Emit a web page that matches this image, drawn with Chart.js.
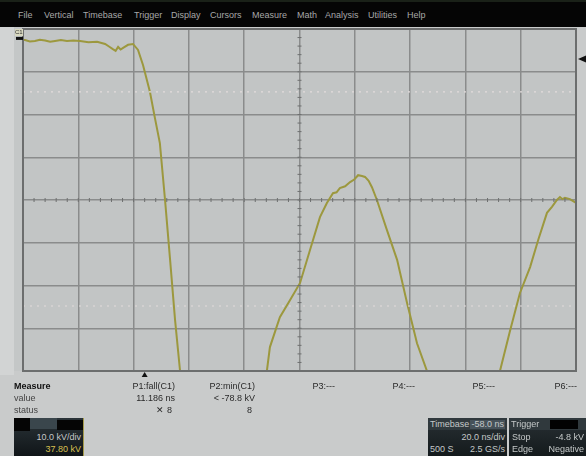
<!DOCTYPE html>
<html><head><meta charset="utf-8">
<script src="https://cdn.jsdelivr.net/npm/chart.js@4.4.0/dist/chart.umd.min.js"></script>
<style>
body{margin:0;width:586px;height:456px;overflow:hidden;position:relative;background:#c9cbcb;font-family:"Liberation Sans",Arial,sans-serif;}
#c{position:absolute;left:0;top:0}
.abs{position:absolute;white-space:nowrap;line-height:1}
#menu{position:absolute;left:0;top:0;width:586px;height:27px;background:#050505;border-top:2px solid #1a2118;box-sizing:border-box}
#menu span{position:absolute;top:8px;font-size:9px;color:#a8a8a8}
.m{font-size:9px;color:#2a2a2a}
.g{color:#555}
.box{position:absolute;background:#1b2226;overflow:hidden}
.bt{position:absolute;font-size:9px;color:#c4c8c8;white-space:nowrap;line-height:1}
</style></head><body>
<canvas id="c" width="586" height="456"></canvas>
<div id="menu"></div>
<div id="meas"></div>
<div class="box" style="left:14px;top:418px;width:69px;height:38px;border-right:1px solid #a49a4a;background:linear-gradient(#2a3338,#101518)">
  <div style="position:absolute;left:0;top:0;width:16px;height:13px;background:#050505"></div>
  <div style="position:absolute;left:16px;top:0;width:27px;height:11px;background:#3a464c"></div>
  <div style="position:absolute;left:43px;top:2px;width:26px;height:10px;background:#050505"></div>
  <div class="bt" style="right:2px;top:15px">10.0 kV/div</div>
  <div class="bt" style="right:2px;top:27px;color:#d8c050">37.80 kV</div>
</div>
<div class="box" style="left:428px;top:418px;width:79px;height:38px;background:linear-gradient(#283034,#141a1c)">
  <div style="position:absolute;left:0;top:0;width:79px;height:12px;background:#30393d"></div>
  <div class="bt" style="left:2px;top:2px">Timebase</div>
  <div class="bt" style="right:2px;top:2px;background:#46525a;padding:0 1px">-58.0 ns</div>
  <div class="bt" style="right:2px;top:15px">20.0 ns/div</div>
  <div class="bt" style="left:2px;top:27px">500 S</div>
  <div class="bt" style="right:2px;top:27px">2.5 GS/s</div>
</div>
<div class="box" style="left:509px;top:418px;width:77px;height:38px;background:linear-gradient(#283034,#141a1c)">
  <div style="position:absolute;left:0;top:0;width:77px;height:12px;background:#30393d"></div>
  <div style="position:absolute;left:41px;top:2px;width:28px;height:9px;background:#020202"></div>
  <div class="bt" style="left:2px;top:2px">Trigger</div>
  <div class="bt" style="left:3px;top:15px">Stop</div>
  <div class="bt" style="right:2px;top:15px">-4.8 kV</div>
  <div class="bt" style="left:3px;top:27px">Edge</div>
  <div class="bt" style="right:2px;top:27px">Negative</div>
</div>
<script>
// ---- data (time in ns, voltage in kV) ----
const timeNs = [-44.0,-43.3,-41.5,-39.7,-37.9,-36.0,-34.2,-32.4,-30.3,-28.1,-25.8,-23.4,-20.3,-17.2,-14.3,-12.9,-11.5,-10.5,-9.6,-8.7,-7.8,-6.0,-4.2,-2.4,-0.6,1.9,3.7,5.5,7.4,9.2,11.0,12.8,14.6,18,24,30,36,41,44.2,45.3,48.9,52.6,56.2,59.8,63.4,65.9,68.1,69.4,70.6,72.5,74.3,75.8,77.2,78.6,79.7,81.0,82.2,84.0,87.6,91.3,94.9,98.5,102.1,105,110,116,122,126,128.5,132.1,135.7,139.4,142.3,145.5,147.3,149.1,150.2,151.1,152.0,153.8,155.6,156.0];
const voltKV = [-0.4,-0.4,-0.7,-0.6,-0.3,-0.5,-0.8,-0.6,-0.4,-0.6,-0.5,-0.6,-0.9,-0.8,-1.3,-1.9,-2.5,-2.9,-2.0,-2.6,-2.2,-1.5,-1.3,-2.7,-6.2,-12.5,-18.6,-24.5,-38.0,-51.8,-65.9,-77.8,-88,-97,-104,-106,-101,-90,-77.8,-72.2,-65.2,-61.2,-57.2,-49.5,-41.8,-38.5,-36.2,-36.0,-35.0,-34.6,-33.6,-33.0,-32.0,-32.2,-32.4,-33.3,-34.8,-37.8,-44.8,-51.8,-61.9,-71.3,-77.8,-86,-95,-99,-94,-86,-77.8,-68.5,-59.6,-53.5,-47.2,-40.8,-39.4,-37.8,-37.1,-37.6,-37.3,-37.6,-38.3,-38.3];
const xDivTicks = [-44,-24,-4,16,36,56,76,96,116,136,156];
const yDivTicks = [-77.8,-67.8,-57.8,-47.8,-37.8,-27.8,-17.8,-7.8,2.2];
const levelHigh = -12.5, levelLow = -62.6;
const triggerLevelKV = -4.8, triggerTimeNs = 0, groundKV = 0;
const menuItems = ["File","Vertical","Timebase","Trigger","Display","Cursors","Measure","Math","Analysis","Utilities","Help"];
const menuX = [18,44,83,134,171,210,252,297,325,368,407];
const measHeads = ["P1:fall(C1)","P2:min(C1)","P3:---","P4:---","P5:---","P6:---"];
const measValues = ["11.186 ns","< -78.8 kV","","","",""];
const measStatus = ["\u2715 8","8","","","",""];

// ---- html text ----
const menu = document.getElementById('menu');
menuItems.forEach((t,i)=>{const s=document.createElement('span');s.textContent=t;s.style.left=menuX[i]+'px';menu.appendChild(s);});
const meas = document.getElementById('meas');
function addText(txt,left,top,extra,right){const d=document.createElement('div');d.className='abs m';d.textContent=txt;d.style.top=top+'px';if(right!==undefined){d.style.right=(586-right)+'px';}else d.style.left=left+'px';if(extra)d.style.cssText+=extra;meas.appendChild(d);}
addText("Measure",14,382,"font-weight:bold;color:#111");
addText("value",14,394,"color:#444");
addText("status",14,406,"color:#444");
const colRight=[175,255,335,415,495,577];
measHeads.forEach((h,i)=>{addText(h,0,382,"",colRight[i]);if(measValues[i])addText(measValues[i],0,394,"",colRight[i]);if(measStatus[i])addText(measStatus[i],0,406,"",colRight[i]-3);});

// ---- chart ----
const pts = timeNs.map((t,i)=>({x:t,y:voltKV[i]}));
const xMin=-44,xMax=156,yMin=-77.8,yMax=2.2;
const gridCol='#8a8c8c';
const deco={
  id:'deco',
  beforeDraw(ch){
    const c=ch.ctx,a=ch.chartArea;
    c.save();
    c.fillStyle='#c9cbcb';c.fillRect(0,0,586,456);
    c.fillStyle='#d2d4d4';c.fillRect(0,27,14,348);
    c.fillStyle='#c4c7c7';c.fillRect(14,27,a.left-14,a.bottom-27);
    c.fillStyle='#c2c5c5';c.fillRect(a.left,a.top,a.right-a.left,a.bottom-a.top);
    c.restore();
  },
  afterDatasetsDraw(ch){
    const c=ch.ctx,a=ch.chartArea,xs=ch.scales.x,ys=ch.scales.y;
    c.save();
    // minor ticks on center axes
    const cx=xs.getPixelForValue(56),cy=ys.getPixelForValue(-37.8);
    c.strokeStyle='#6e7070';c.lineWidth=1;
    for(let v=xMin;v<=xMax+0.01;v+=4){const px=xs.getPixelForValue(v);c.beginPath();c.moveTo(px,cy-2);c.lineTo(px,cy+2);c.stroke();}
    for(let v=yMin;v<=yMax+0.01;v+=2){const py=ys.getPixelForValue(v);c.beginPath();c.moveTo(cx-2,py);c.lineTo(cx+2,py);c.stroke();}
    // outer border
    c.strokeStyle='#6c6e6e';c.lineWidth=2;c.strokeRect(a.left,a.top,a.right-a.left,a.bottom-a.top);
    // C1 label and ground marker
    const gy=ys.getPixelForValue(groundKV);
    c.fillStyle='#d8d8c0';c.fillRect(15,29,8,7);
    c.fillStyle='#333';c.font='6px "Liberation Sans",Arial';c.textBaseline='middle';c.fillText('C1',15,32.5);
    c.fillStyle='#111';c.fillRect(16,gy-1.5,7,3);
    // trigger level arrow (right)
    const ty=ys.getPixelForValue(triggerLevelKV);
    c.fillStyle='#111';c.beginPath();c.moveTo(a.right+2,ty);c.lineTo(586,ty-3.5);c.lineTo(586,ty+3.5);c.closePath();c.fill();
    // trigger time marker (bottom)
    const tx=xs.getPixelForValue(triggerTimeNs);
    c.beginPath();c.moveTo(tx,a.bottom+1);c.lineTo(tx-3,a.bottom+6);c.lineTo(tx+3,a.bottom+6);c.closePath();c.fill();
    c.restore();
  }
};
new Chart(document.getElementById('c'),{
  type:'line',
  data:{datasets:[
    {data:[{x:xMin,y:levelHigh},{x:xMax,y:levelHigh}],borderColor:'#e2dcdc',borderWidth:1.2,borderDash:[2,5],pointRadius:0,clip:0},
    {data:[{x:xMin,y:levelLow},{x:xMax,y:levelLow}],borderColor:'#e2dcdc',borderWidth:1.2,borderDash:[2,5],pointRadius:0,clip:0},
    {data:pts,borderColor:'#9c983e',borderWidth:2,pointRadius:0,tension:0,clip:0}
  ]},
  options:{
    responsive:false,animation:false,
    layout:{padding:{left:23,top:29,right:10,bottom:85}},
    plugins:{legend:{display:false},tooltip:{enabled:false}},
    scales:{
      x:{type:'linear',min:xMin,max:xMax,
        afterBuildTicks:s=>{s.ticks=xDivTicks.map(v=>({value:v}));},
        afterFit:s=>{s.height=0;},
        ticks:{display:false},grid:{color:gridCol,lineWidth:1.5,drawTicks:false},border:{display:false}},
      y:{type:'linear',min:yMin,max:yMax,
        afterBuildTicks:s=>{s.ticks=yDivTicks.map(v=>({value:v}));},
        afterFit:s=>{s.width=0;},
        ticks:{display:false},grid:{color:gridCol,lineWidth:1.5,drawTicks:false},border:{display:false}}
    }
  },
  plugins:[deco]
});
</script>
</body></html>
